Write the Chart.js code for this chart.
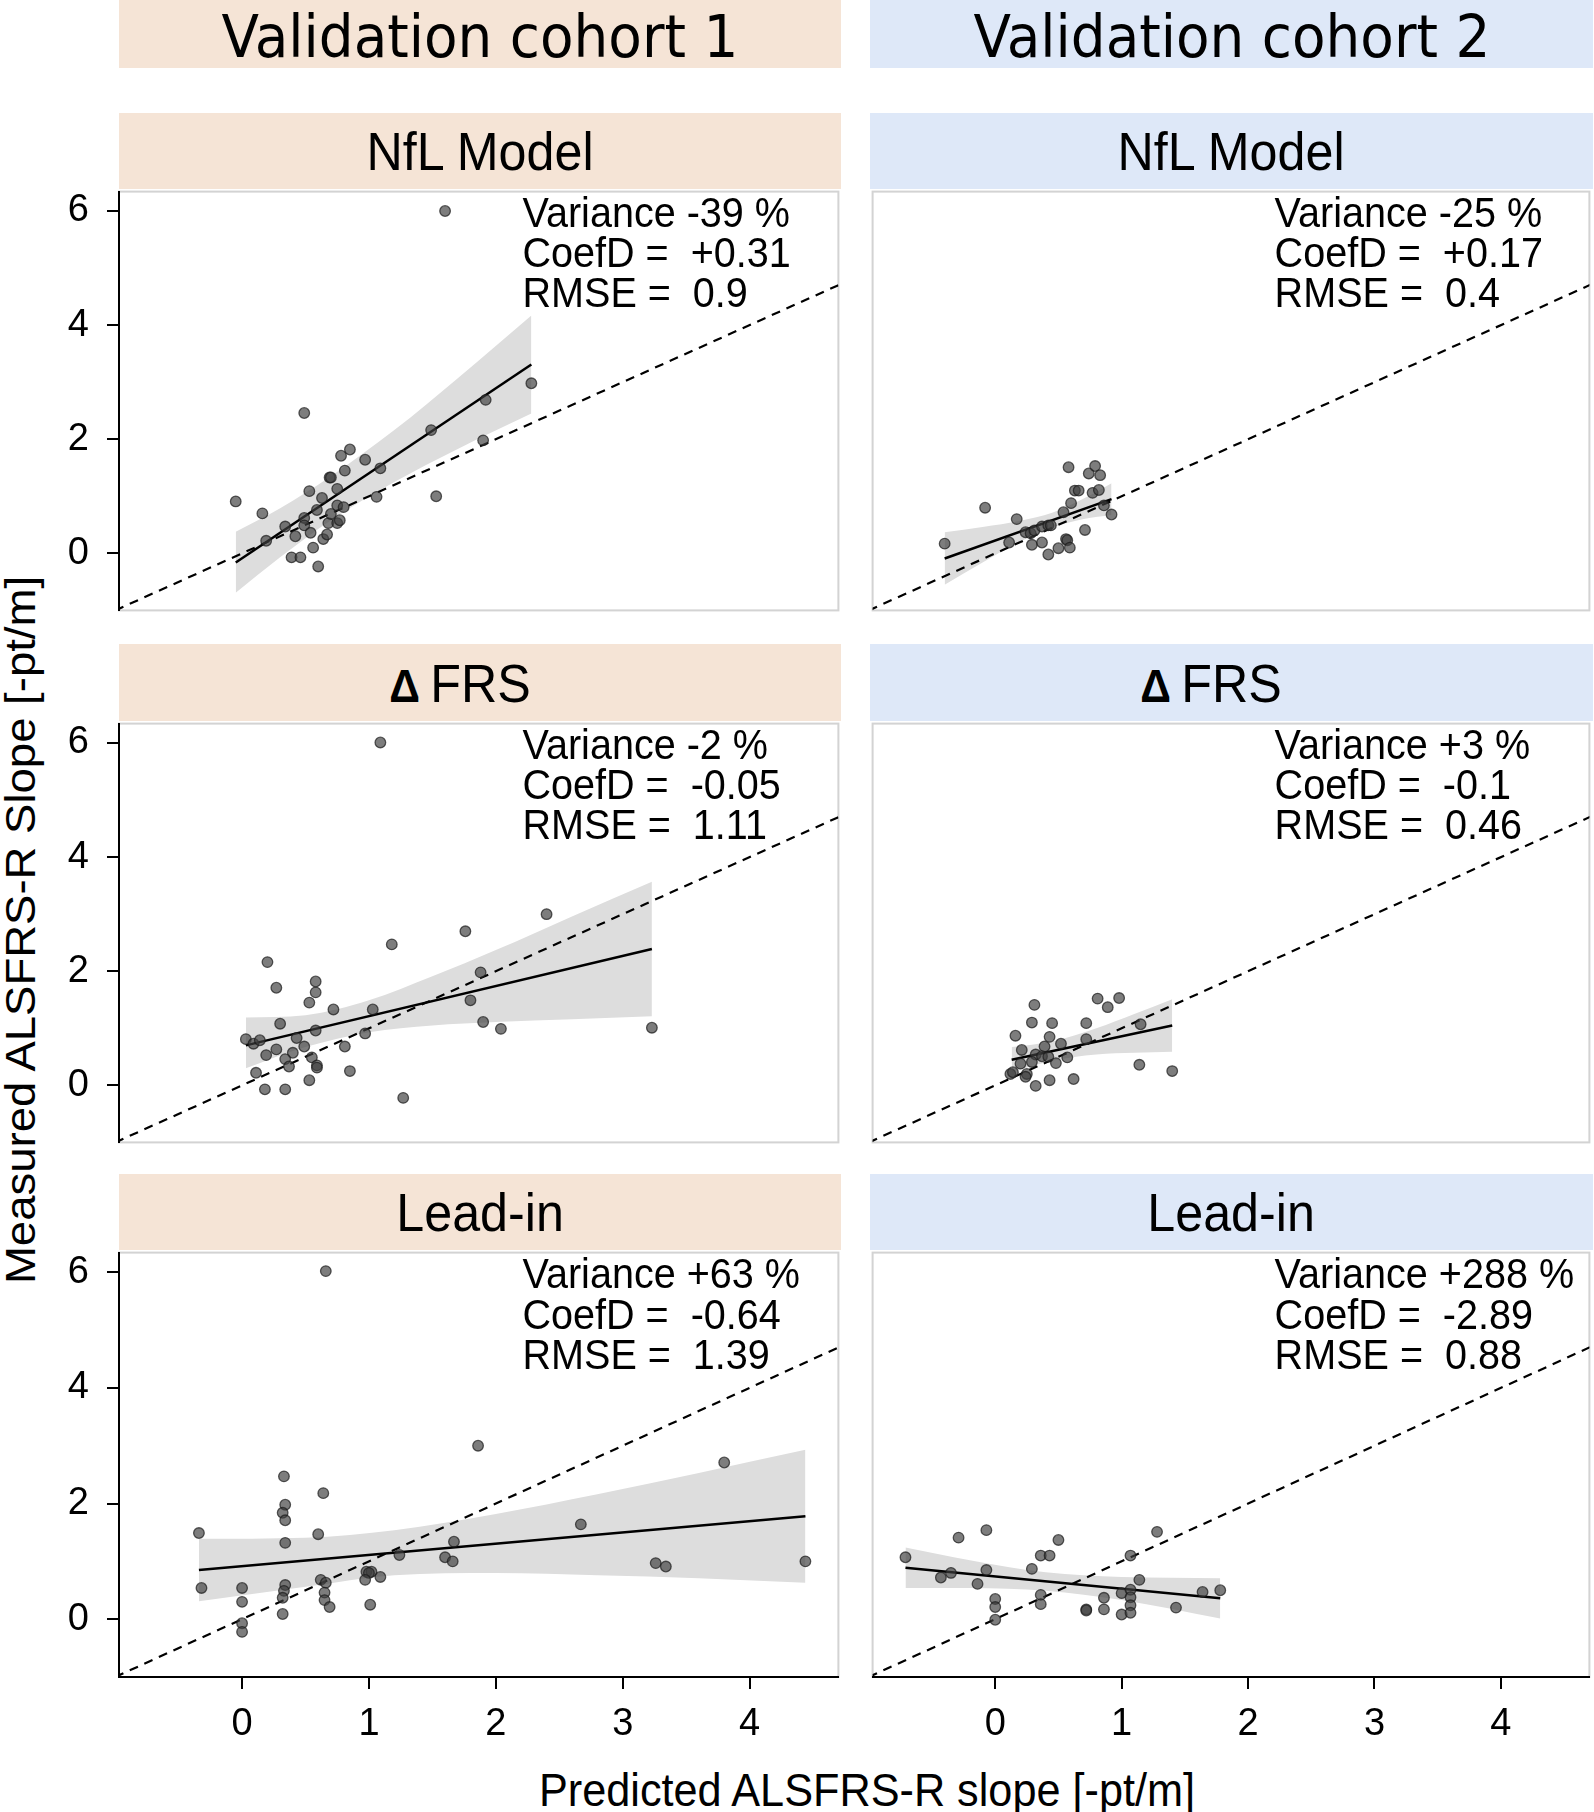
<!DOCTYPE html>
<html>
<head>
<meta charset="utf-8">
<title>Predicted vs measured ALSFRS-R slope</title>
<script src="https://cdn.jsdelivr.net/npm/chart.js@4.4.1/dist/chart.umd.min.js"></script>
<style>
  body { margin: 0; background: #fff; }
  #page { position: relative; width: 1594px; height: 1812px; overflow: hidden; background: #fff; }
  .strip { position: absolute; display: flex; align-items: center; justify-content: center; color: #000; white-space: nowrap; }
  .cohort { font-family: 'DejaVu Sans', sans-serif; font-size: 59px; padding-top: 4px; box-sizing: border-box; }
  .facet { font-family: 'Liberation Sans', Arial, sans-serif; font-size: 54px; }
  .peach { background: #f5e4d6; }
  .blue { background: #dee8f8; }
  .squash { display: inline-block; transform: scaleX(0.93); }
  .shiftl { padding-right: 40px; box-sizing: border-box; }
  .delta { font-weight: bold; font-size: 46px; margin-right: 11px; }
  canvas { position: absolute; }
  .title { position: absolute; font-family: 'Liberation Sans', Arial, sans-serif; white-space: nowrap; color: #000; }
</style>
</head>
<body>
<div id="page">
  <div class="strip cohort peach" style="left:119px;top:0;width:722px;height:68px"><span class="squash">Validation cohort 1</span></div>
  <div class="strip cohort blue" style="left:870px;top:0;width:723px;height:68px"><span class="squash">Validation cohort 2</span></div>

  <div class="strip facet peach" style="left:119px;top:113px;width:722px;height:76px"><span class="squash">NfL Model</span></div>
  <div class="strip facet blue" style="left:870px;top:113px;width:723px;height:76px"><span class="squash">NfL Model</span></div>
  <div class="strip facet peach shiftl" style="left:119px;top:644px;width:722px;height:77px"><span class="squash"><span class="delta">&Delta;</span>FRS</span></div>
  <div class="strip facet blue shiftl" style="left:870px;top:644px;width:723px;height:77px"><span class="squash"><span class="delta">&Delta;</span>FRS</span></div>
  <div class="strip facet peach" style="left:119px;top:1174px;width:722px;height:76px"><span class="squash">Lead-in</span></div>
  <div class="strip facet blue" style="left:870px;top:1174px;width:723px;height:76px"><span class="squash">Lead-in</span></div>

  <div class="title" style="left:21px;top:930px;font-size:45.5px;transform:translate(-50%,-50%) rotate(-90deg) scaleY(0.92)">Measured ALSFRS-R Slope [-pt/m]</div>
  <div class="title" style="left:867px;top:1789px;font-size:47px;transform:translate(-50%,-50%) scaleX(0.92)">Predicted ALSFRS-R slope [-pt/m]</div>
</div>
<script>
var xTicks = [0, 1, 2, 3, 4]
var yTicks = [0, 2, 4, 6]
var xRange = [-0.97, 4.70]
var yRange = [-1.0, 6.34]
var identityLine = [-1.0, 4.75]

// Validation cohort 1 - NfL Model
var c1NflX = [1.60, 2.28, 1.92, 1.90, 1.49, 1.53, 1.06, 1.09, 0.97, 0.85, 0.78, 0.81, 0.69, 0.70, 0.49, -0.05, 0.16, 0.19, 0.34, 0.42, 0.49, 0.49, 0.53, 0.54, 0.56, 0.39, 0.46, 0.60, 0.59, 0.63, 0.64, 0.67, 0.68, 0.70, 0.75, 0.75, 0.75, 0.77, 0.80]
var c1NflY = [6.00, 2.98, 2.69, 1.98, 2.16, 1.00, 0.99, 1.49, 1.64, 1.82, 1.71, 1.45, 1.33, 1.33, 2.46, 0.91, 0.70, 0.22, 0.47, 0.30, 0.62, 0.49, 1.09, 0.36, 0.10, -0.07, -0.07, -0.23, 0.76, 0.97, 0.25, 0.33, 0.53, 0.69, 0.53, 1.13, 0.84, 0.58, 0.81]
var c1NflFitX = [-0.05, 2.28]
var c1NflFitY = [-0.16, 3.31]
var c1NflBandX = [-0.05, 0.3, 0.7, 1.2, 1.7, 2.28]
var c1NflBandLo = [-0.69, -0.07, 0.58, 1.25, 1.83, 2.45]
var c1NflBandHi = [0.38, 0.79, 1.35, 2.16, 3.07, 4.17]
var c1NflStats = ['Variance -39 %', 'CoefD =  +0.31', 'RMSE =  0.9']

// Validation cohort 2 - NfL Model
var c2NflX = [-0.40, -0.08, 0.11, 0.17, 0.24, 0.28, 0.31, 0.29, 0.37, 0.37, 0.42, 0.44, 0.42, 0.50, 0.54, 0.56, 0.57, 0.59, 0.60, 0.58, 0.63, 0.66, 0.71, 0.74, 0.79, 0.83, 0.77, 0.82, 0.86, 0.92]
var c2NflY = [0.17, 0.80, 0.19, 0.60, 0.37, 0.35, 0.40, 0.15, 0.19, 0.47, 0.49, 0.49, -0.02, 0.09, 0.72, 0.25, 0.23, 0.10, 0.88, 1.51, 1.10, 1.10, 0.41, 1.40, 1.53, 1.37, 1.06, 1.11, 0.84, 0.68]
var c2NflFitX = [-0.40, 0.92]
var c2NflFitY = [-0.09, 0.95]
var c2NflBandX = [-0.40, -0.1, 0.2, 0.45, 0.7, 0.92]
var c2NflBandLo = [-0.55, -0.16, 0.21, 0.45, 0.60, 0.67]
var c2NflBandHi = [0.37, 0.46, 0.57, 0.71, 0.96, 1.23]
var c2NflStats = ['Variance -25 %', 'CoefD =  +0.17', 'RMSE =  0.4']

// Validation cohort 1 - Delta FRS
var c1DfrsX = [1.09, 2.40, 1.76, 1.18, 0.20, 1.88, 0.58, 0.58, 0.27, 0.53, 1.80, 0.72, 1.03, 0.30, 1.90, 2.04, 3.23, 0.58, 0.97, 0.03, 0.09, 0.14, 0.43, 0.19, 0.27, 0.49, 0.81, 0.40, 0.34, 0.37, 0.55, 0.59, 0.59, 0.85, 0.11, 0.53, 0.18, 0.34, 1.27]
var c1DfrsY = [6.01, 3.00, 2.70, 2.47, 2.16, 1.98, 1.82, 1.63, 1.71, 1.45, 1.49, 1.33, 1.33, 1.08, 1.11, 0.99, 1.01, 0.96, 0.91, 0.81, 0.73, 0.79, 0.83, 0.53, 0.63, 0.68, 0.68, 0.57, 0.46, 0.33, 0.49, 0.35, 0.31, 0.25, 0.22, 0.09, -0.07, -0.07, -0.22]
var c1DfrsFitX = [0.03, 3.23]
var c1DfrsFitY = [0.70, 2.39]
var c1DfrsBandX = [0.03, 0.5, 1.0, 1.5, 2.0, 2.6, 3.23]
var c1DfrsBandLo = [0.30, 0.67, 0.93, 1.05, 1.11, 1.16, 1.21]
var c1DfrsBandHi = [1.19, 1.23, 1.49, 1.91, 2.37, 2.96, 3.57]
var c1DfrsStats = ['Variance -2 %', 'CoefD =  -0.05', 'RMSE =  1.11']

// Validation cohort 2 - Delta FRS
var c2DfrsX = [0.31, 0.81, 0.98, 0.89, 0.29, 0.45, 0.72, 1.15, 0.16, 0.43, 0.72, 0.52, 0.21, 0.39, 0.57, 0.32, 0.37, 0.42, 0.20, 0.29, 0.48, 1.14, 1.40, 0.12, 0.25, 0.24, 0.62, 0.43, 0.32, 0.14]
var c2DfrsY = [1.41, 1.52, 1.53, 1.37, 1.10, 1.09, 1.09, 1.07, 0.87, 0.85, 0.81, 0.73, 0.62, 0.68, 0.49, 0.54, 0.51, 0.50, 0.38, 0.41, 0.39, 0.36, 0.25, 0.20, 0.20, 0.15, 0.11, 0.09, -0.01, 0.23]
var c2DfrsFitX = [0.13, 1.40]
var c2DfrsFitY = [0.45, 1.05]
var c2DfrsBandX = [0.13, 0.45, 0.8, 1.1, 1.40]
var c2DfrsBandLo = [0.23, 0.43, 0.54, 0.57, 0.59]
var c2DfrsBandHi = [0.67, 0.77, 1.00, 1.25, 1.51]
var c2DfrsStats = ['Variance +3 %', 'CoefD =  -0.1', 'RMSE =  0.46']

// Validation cohort 1 - Lead-in
var c1LeadX = [0.66, 1.86, 3.80, 0.33, 0.64, 0.34, 0.32, 0.34, -0.34, 0.60, 2.67, 0.34, 1.67, 1.24, 1.60, 1.66, 3.26, 3.34, 4.44, 0.98, 1.02, 1.00, 1.09, 0.97, 0.62, 0.66, 0.34, -0.32, 0.00, 0.33, 0.65, 0.32, 0.65, 0.00, 1.01, 0.69, 0.32, 0.00, 0.00]
var c1LeadY = [6.02, 3.00, 2.71, 2.47, 2.18, 1.98, 1.84, 1.71, 1.49, 1.47, 1.64, 1.32, 1.34, 1.11, 1.07, 1.00, 0.97, 0.91, 1.00, 0.82, 0.82, 0.80, 0.73, 0.68, 0.68, 0.63, 0.59, 0.54, 0.54, 0.49, 0.46, 0.37, 0.33, 0.30, 0.25, 0.21, 0.09, -0.07, -0.22]
var c1LeadFitX = [-0.34, 4.44]
var c1LeadFitY = [0.85, 1.78]
var c1LeadBandX = [-0.34, 0.5, 1.2, 2.0, 2.8, 3.6, 4.44]
var c1LeadBandLo = [0.31, 0.56, 0.76, 0.80, 0.76, 0.71, 0.63]
var c1LeadBandHi = [1.39, 1.41, 1.54, 1.82, 2.16, 2.53, 2.93]
var c1LeadStats = ['Variance +63 %', 'CoefD =  -0.64', 'RMSE =  1.39']

// Validation cohort 2 - Lead-in
var c2LeadX = [-0.71, -0.29, -0.07, 0.50, 1.28, 0.36, 0.43, 1.07, -0.43, -0.35, -0.07, -0.14, 0.29, 1.14, 0.00, 0.00, 0.00, 0.36, 0.36, 0.72, 0.72, 0.86, 0.86, 1.00, 1.00, 1.07, 1.07, 1.07, 1.07, 1.43, 1.64, 1.78]
var c2LeadY = [1.07, 1.41, 1.54, 1.37, 1.51, 1.10, 1.10, 1.10, 0.72, 0.80, 0.85, 0.61, 0.87, 0.68, 0.35, 0.21, -0.01, 0.42, 0.26, 0.17, 0.15, 0.37, 0.17, 0.45, 0.08, 0.51, 0.38, 0.24, 0.11, 0.20, 0.47, 0.50]
var c2LeadFitX = [-0.71, 1.78]
var c2LeadFitY = [0.89, 0.36]
var c2LeadBandX = [-0.71, -0.2, 0.4, 1.0, 1.78]
var c2LeadBandLo = [0.54, 0.54, 0.49, 0.33, 0.01]
var c2LeadBandHi = [1.24, 1.02, 0.81, 0.73, 0.71]
var c2LeadStats = ['Variance +288 %', 'CoefD =  -2.89', 'RMSE =  0.88']

// panel geometry on the page (plot areas)
var colLeft = [119, 870]
var colRight = [841, 1592]
var rowTop = [189, 721, 1250]
var rowBottom = [613, 1145, 1677]
var xAxisHeight = 80
var statsAt = [2.21, 5.93]
var statsStep = 0.70

function toPoints(xs, ys) {
    return xs.map(function (x, i) { return { x: x, y: ys[i] } })
}

// light grey frame round each plot; black axes are drawn over it
var framePlugin = {
    id: 'frame',
    beforeDraw: function (chart) {
        var a = chart.chartArea
        var ctx = chart.ctx
        ctx.save()
        ctx.strokeStyle = '#d3d3d3'
        ctx.lineWidth = 2
        ctx.strokeRect(a.left, a.top, a.right - a.left, a.bottom - a.top)
        ctx.restore()
    }
}

var statsPlugin = {
    id: 'stats',
    afterDatasetsDraw: function (chart, args, opts) {
        var ctx = chart.ctx
        var xs = chart.scales.x
        var ys = chart.scales.y
        ctx.save()
        ctx.fillStyle = '#000'
        ctx.font = '43px "Liberation Sans", Arial, sans-serif'
        ctx.textBaseline = 'middle'
        ctx.textAlign = 'left'
        opts.lines.forEach(function (t, i) {
            ctx.save()
            ctx.translate(xs.getPixelForValue(statsAt[0]), ys.getPixelForValue(statsAt[1] - i * statsStep))
            ctx.scale(0.92, 1)
            ctx.fillText(t, 0, 0)
            ctx.restore()
        })
        ctx.restore()
    }
}

function CreatePanel(col, row, px, py, fitX, fitY, bandX, bandLo, bandHi, stats) {
    var bottomRow = row === 2
    var leftCol = col === 0
    var canvas = document.createElement('canvas')
    var left = leftCol ? 0 : colLeft[col] - 4
    var width = colRight[col] + 4 - left
    var top = rowTop[row] - 4
    var height = rowBottom[row] - rowTop[row] + 4 + (bottomRow ? xAxisHeight : 4)
    canvas.width = width
    canvas.height = height
    canvas.style.left = left + 'px'
    canvas.style.top = top + 'px'
    canvas.style.width = width + 'px'
    canvas.style.height = height + 'px'
    document.getElementById('page').appendChild(canvas)

    var tickFont = { family: "'Liberation Sans', Arial, sans-serif", size: 38 }

    new Chart(canvas, {
        type: 'scatter',
        data: {
            datasets: [{
                data: toPoints(px, py),
                backgroundColor: 'rgba(64,64,64,0.68)',
                borderColor: 'rgba(25,25,25,0.7)',
                borderWidth: 1.3,
                pointRadius: 5.3,
                order: 0
            }, {
                type: 'line',
                data: toPoints(fitX, fitY),
                borderColor: '#000',
                borderWidth: 2.5,
                pointRadius: 0,
                fill: false,
                order: 1
            }, {
                type: 'line',
                data: toPoints(identityLine, identityLine),
                borderColor: '#000',
                borderWidth: 2.2,
                borderDash: [9, 7],
                pointRadius: 0,
                fill: false,
                order: 2
            }, {
                type: 'line',
                data: toPoints(bandX, bandHi),
                borderColor: 'rgba(0,0,0,0)',
                borderWidth: 0,
                backgroundColor: '#dddddd',
                pointRadius: 0,
                tension: 0.4,
                cubicInterpolationMode: 'monotone',
                fill: '+1',
                order: 3
            }, {
                type: 'line',
                data: toPoints(bandX, bandLo),
                borderColor: 'rgba(0,0,0,0)',
                borderWidth: 0,
                pointRadius: 0,
                tension: 0.4,
                cubicInterpolationMode: 'monotone',
                fill: false,
                order: 4
            }]
        },
        options: {
            responsive: false,
            animation: false,
            events: [],
            layout: {
                padding: { left: leftCol ? 0 : 4, right: 4, top: 4, bottom: bottomRow ? 0 : 4 }
            },
            scales: {
                x: {
                    type: 'linear',
                    min: xRange[0],
                    max: xRange[1],
                    display: bottomRow,
                    afterBuildTicks: function (s) { s.ticks = xTicks.map(function (v) { return { value: v } }) },
                    afterFit: function (s) {
                        if (bottomRow) s.height = xAxisHeight
                        s.paddingLeft = 0
                        s.paddingRight = 0
                    },
                    border: { display: true, color: '#000', width: 2 },
                    grid: { display: true, drawOnChartArea: false, drawTicks: true, tickLength: 12, color: '#000', lineWidth: 2 },
                    ticks: { color: '#000', font: tickFont, padding: 13, maxRotation: 0 }
                },
                y: {
                    type: 'linear',
                    min: yRange[0],
                    max: yRange[1],
                    display: leftCol,
                    afterBuildTicks: function (s) { s.ticks = yTicks.map(function (v) { return { value: v } }) },
                    afterFit: function (s) {
                        if (leftCol) s.width = colLeft[0]
                        s.paddingTop = 0
                        s.paddingBottom = 0
                    },
                    border: { display: true, color: '#000', width: 2 },
                    grid: { display: true, drawOnChartArea: false, drawTicks: true, tickLength: 12, color: '#000', lineWidth: 2 },
                    ticks: { color: '#000', font: tickFont, padding: 18 }
                }
            },
            plugins: {
                legend: { display: false },
                tooltip: { enabled: false },
                stats: { lines: stats }
            }
        },
        plugins: [framePlugin, statsPlugin]
    })
}

CreatePanel(0, 0, c1NflX, c1NflY, c1NflFitX, c1NflFitY, c1NflBandX, c1NflBandLo, c1NflBandHi, c1NflStats)
CreatePanel(1, 0, c2NflX, c2NflY, c2NflFitX, c2NflFitY, c2NflBandX, c2NflBandLo, c2NflBandHi, c2NflStats)
CreatePanel(0, 1, c1DfrsX, c1DfrsY, c1DfrsFitX, c1DfrsFitY, c1DfrsBandX, c1DfrsBandLo, c1DfrsBandHi, c1DfrsStats)
CreatePanel(1, 1, c2DfrsX, c2DfrsY, c2DfrsFitX, c2DfrsFitY, c2DfrsBandX, c2DfrsBandLo, c2DfrsBandHi, c2DfrsStats)
CreatePanel(0, 2, c1LeadX, c1LeadY, c1LeadFitX, c1LeadFitY, c1LeadBandX, c1LeadBandLo, c1LeadBandHi, c1LeadStats)
CreatePanel(1, 2, c2LeadX, c2LeadY, c2LeadFitX, c2LeadFitY, c2LeadBandX, c2LeadBandLo, c2LeadBandHi, c2LeadStats)
</script>
</body>
</html>
